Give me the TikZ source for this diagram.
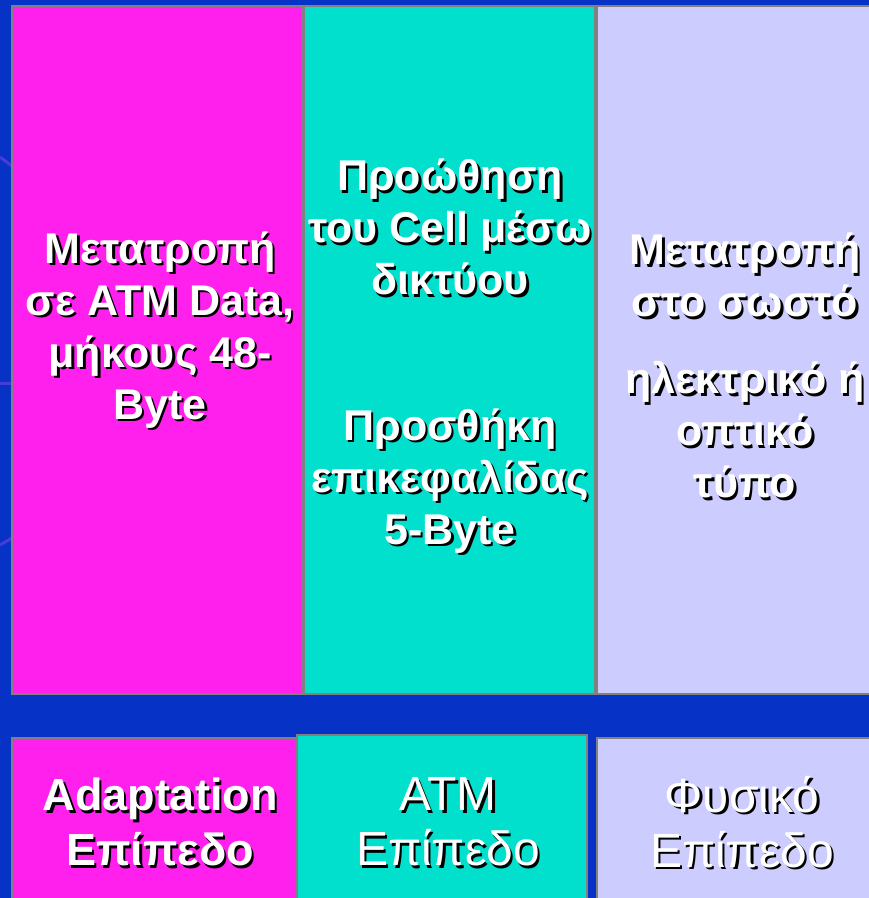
\documentclass[tikz,border=0pt]{standalone}
\usepackage{fontspec}
\setmainfont{Liberation Sans}
\definecolor{bgblue}{HTML}{0732C6}
\definecolor{magbox}{HTML}{FF20EE}
\definecolor{cyanbox}{HTML}{00E0CC}
\definecolor{lavbox}{HTML}{CCCCFF}
\definecolor{edgegray}{HTML}{808080}
\definecolor{swirl}{HTML}{4A3AD6}
\tikzset{
  layerbox/.style={draw=edgegray, line width=2pt, anchor=north west, inner sep=0pt},
  txt/.style={text=white, align=center, inner sep=0pt},
  topfont/.style={font=\bfseries\fontsize{43}{52}\selectfont},
  botbold/.style={font=\bfseries\fontsize{45}{55}\selectfont},
  botreg/.style={font=\fontsize{48}{55}\selectfont},
}
\newcommand\shlabel[4]{%
  \node[txt,#3,text=black] at ([shift={(2.5,2.5)}]#2) {#4};
  \node[txt,#3] (#1) at (#2) {#4};
}
\begin{document}
\begin{tikzpicture}[x=1pt,y=-1pt]
\useasboundingbox (0,0) rectangle (869,898);
\fill[bgblue] (0,0) rectangle (869,898);
% faint background swirl remnants
\draw[swirl, line width=3pt] (0,157) -- (12,166);
\draw[swirl, line width=3pt] (0,383) -- (12,383);
\draw[swirl, line width=3pt] (0,545) -- (12,538);
% top boxes
\node[layerbox, fill=magbox, minimum width=290pt, minimum height=688pt] (m1) at (11,5) {};
\node[layerbox, fill=cyanbox, minimum width=291pt, minimum height=688pt] (c1) at (303,5) {};
\node[layerbox, fill=lavbox, minimum width=290pt, minimum height=688pt] (l1) at (596,5) {};
% bottom boxes
\node[layerbox, fill=magbox, minimum width=285pt, minimum height=180pt] (m2) at (11,737) {};
\node[layerbox, fill=cyanbox, minimum width=290pt, minimum height=180pt] (c2) at (296,734) {};
\node[layerbox, fill=lavbox, minimum width=290pt, minimum height=180pt] (l2) at (596,737) {};
% texts
\shlabel{tm}{160,330}{topfont}{Μετατροπή\\σε ATM Data,\\μήκους 48-\\Byte}
\shlabel{tc1}{450,227}{topfont}{Προώθηση\\του Cell μέσω\\δικτύου}
\shlabel{tc2}{450,481}{topfont}{Προσθήκη\\επικεφαλίδας\\5-Byte}
\shlabel{tl1}{745,275}{topfont}{Μετατροπή\\στο σωστό}
\shlabel{tl2}{745,430}{topfont}{ηλεκτρικό ή\\οπτικό\\τύπο}
\shlabel{bm}{160,822}{botbold}{Adaptation\\Επίπεδο}
\shlabel{bc}{448,822}{botreg}{ATM\\Επίπεδο}
\shlabel{bl}{742,822}{botreg}{Φυσικό\\Επίπεδο}
\end{tikzpicture}
\end{document}
